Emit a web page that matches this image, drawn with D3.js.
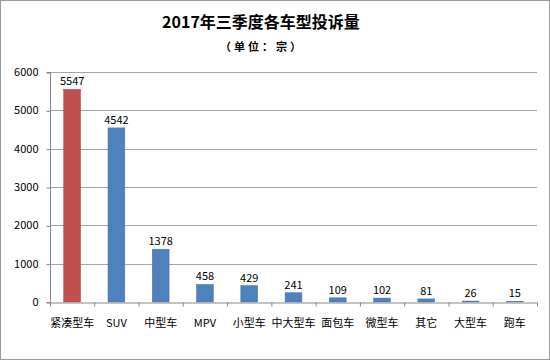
<!DOCTYPE html>
<html><head><meta charset="utf-8">
<script src="https://cdn.jsdelivr.net/npm/d3@7"></script>
<style>body{margin:0;background:#fff}svg{display:block}</style>
</head><body><svg id="c" width="550" height="360"></svg>
<script>
const categories = ["紧凑型车","SUV","中型车","MPV","小型车","中大型车","面包车","微型车","其它","大型车","跑车"];
const values = [5547,4542,1378,458,429,241,109,102,81,26,15];
const yTicks = [0,1000,2000,3000,4000,5000,6000];
const title = "2017年三季度各车型投诉量";
const subtitle = "（单位：宗）";

const svg = d3.select("#c");
const W = 550, H = 360;
const m = {left:50, right:13, top:72, bottom:58};
svg.append("rect").attr("x",0.5).attr("y",0.5).attr("width",W-1).attr("height",H-1)
  .attr("fill","#fff").attr("stroke","#9a9a9a");

const font = "'Noto Sans CJK SC','Microsoft YaHei',sans-serif";
const x = d3.scaleBand().domain(categories).range([m.left, W-m.right]).paddingInner(0.62).paddingOuter(0.31);
const y = d3.scaleLinear().domain([0,6000]).range([H-m.bottom, m.top]);

// gridlines
svg.append("g").selectAll("line").data(yTicks.slice(1)).join("line")
  .attr("x1",m.left).attr("x2",W-m.right)
  .attr("y1",d=>Math.round(y(d))+0.5).attr("y2",d=>Math.round(y(d))+0.5)
  .attr("stroke","#a6a6a6").attr("stroke-width",1);

// y axis
const ya = svg.append("g").attr("transform",`translate(${m.left+0.5},0)`)
  .call(d3.axisLeft(y).tickValues(yTicks).tickSize(4).tickPadding(8).tickFormat(d3.format("d")));
ya.select(".domain").attr("stroke","#888").attr("d",`M-4,${Math.round(y(6000))+0.5}H0V${Math.round(y(0))+0.5}H-4`);
ya.selectAll(".tick line").attr("stroke","#888").attr("transform","translate(0,0.5)");
ya.selectAll("text").attr("font-family",font).attr("font-size",11).attr("fill","#000");

// bars
svg.append("g").selectAll("rect").data(values).join("rect")
  .attr("x",(d,i)=>x(categories[i])).attr("width",x.bandwidth())
  .attr("y",d=>y(d)).attr("height",d=>y(0)-y(d))
  .attr("fill",(d,i)=>i===0?"#C0504D":"#4F81BD")
  .attr("stroke",(d,i)=>i===0?"#a84542":"#4573aa").attr("stroke-width",0.5);

// x axis
const xa = svg.append("g").attr("transform",`translate(0,${Math.round(y(0))+0.5})`)
  .call(d3.axisBottom(x).tickSize(0).tickPadding(17));
xa.select(".domain").attr("stroke","#888");
xa.selectAll(".ticks2").data(d3.range(categories.length+1)).join("line")
  .attr("x1",i=>m.left+0.5+i*(W-m.right-m.left)/categories.length)
  .attr("x2",i=>m.left+0.5+i*(W-m.right-m.left)/categories.length)
  .attr("y1",0).attr("y2",4).attr("stroke","#888");
xa.selectAll("text").attr("font-family",font).attr("font-size",11).attr("fill","#000");

// value labels
svg.append("g").selectAll("text").data(values).join("text")
  .attr("x",(d,i)=>x(categories[i])+x.bandwidth()/2).attr("y",d=>y(d)-4)
  .attr("text-anchor","middle").attr("font-family",font).attr("font-size",11).attr("fill","#000")
  .text(d=>d);

// titles
svg.append("text").attr("x",261).attr("y",28).attr("text-anchor","middle")
  .attr("font-family",font).attr("font-size",16).attr("font-weight","bold").text(title);
svg.append("text").attr("x",262).attr("y",51).attr("text-anchor","middle").attr("letter-spacing",3)
  .attr("font-family",font).attr("font-size",11).attr("font-weight","bold").text(subtitle);
</script></body></html>
